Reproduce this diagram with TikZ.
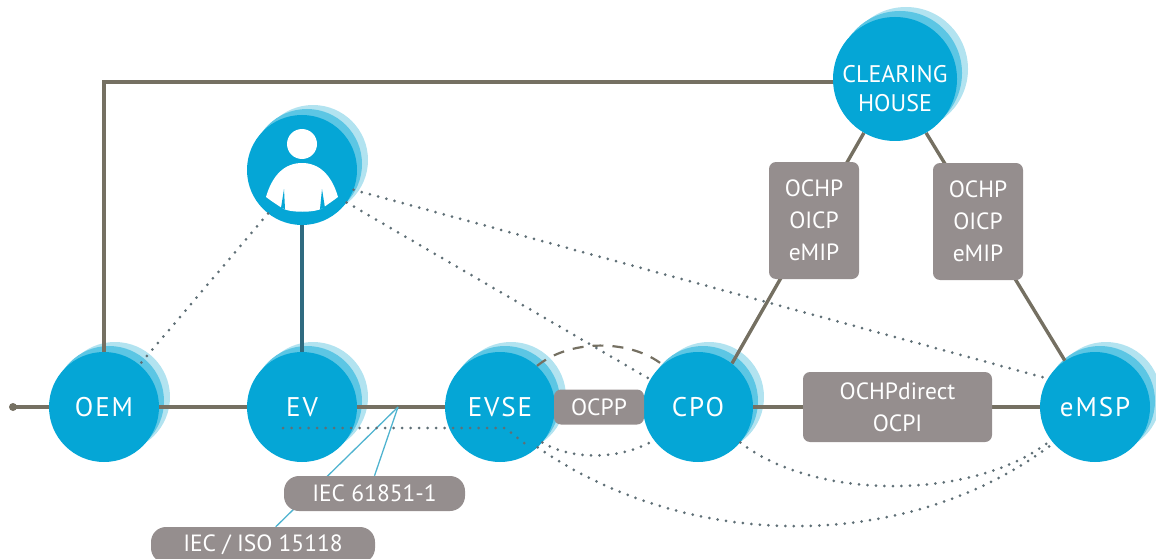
\documentclass[tikz,border=0pt]{standalone}
\usepackage{fontspec}
\setmainfont{PT Sans}
\newfontfamily\trackfont[LetterSpace=7]{PT Sans}
\definecolor{front}{HTML}{05A6D6}
\definecolor{midhalo}{HTML}{5CC6E4}
\definecolor{lighthalo}{HTML}{B2E3F0}
\definecolor{boxgrey}{HTML}{958E8E}
\definecolor{wire}{HTML}{757062}
\definecolor{teal}{HTML}{2F6B80}
\definecolor{dotgrey}{HTML}{5F6F76}
\definecolor{thinblue}{HTML}{4FB3CF}
\pgfdeclarelayer{halo}
\pgfdeclarelayer{lines}
\pgfdeclarelayer{front}
\pgfsetlayers{halo,lines,main,front}
\tikzset{
  x=1pt,y=-1pt,
  actor/.style={circle,fill=front,text=white,inner sep=0pt,minimum size=110pt,
    font=\trackfont\fontsize{27}{30}\selectfont,align=center},
  clearing/.style={actor,minimum size=124pt},
  clearingtext/.style={text=white,inner sep=0pt,align=center,font=\fontsize{24}{29}\selectfont},
  protobox/.style={rectangle,rounded corners=7pt,fill=boxgrey,text=white,inner sep=0pt,
    font=\fontsize{23.5}{32}\selectfont,align=center},
  pill/.style={protobox,rounded corners=15pt},
  wireline/.style={draw=wire,line width=3.4pt},
  tealline/.style={draw=teal,line width=3.8pt},
  blueline/.style={draw=thinblue,line width=1.3pt},
  dotline/.style={draw=dotgrey,line width=3pt,line cap=round,dash pattern=on 0pt off 8.5pt},
  dashline/.style={draw=wire,line width=2.2pt,dash pattern=on 11pt off 9pt},
}
\begin{document}
\begin{tikzpicture}
\useasboundingbox (0,0) rectangle (1156,559);
% named free ends
\coordinate (startpt) at (13,407);
\coordinate (jn) at (398,407);
\coordinate (chjoin) at (834,82);
\coordinate (evdota) at (283,428);
\coordinate (evdotb) at (505,428);
\coordinate (evdotc) at (528,446);
% actors
\node[actor] (oem) at (104,407) {OEM};
\node[actor] (ev) at (302,407) {EV};
\node[actor] (evse) at (500,407) {EVSE};
\node[actor] (cpo) at (698,407) {CPO};
\node[actor] (emsp) at (1095,407) {eMSP};
\node[clearing] (ch) at (895,79) {};
\node[clearingtext] (chlabel) at (895,89) {CLEARING\\HOUSE};
\node[actor] (person) at (302,170) {};
% protocol boxes
\node[protobox,minimum width=90pt,minimum height=35pt] (ocpp) at (599,407) {OCPP};
\node[protobox,minimum width=189pt,minimum height=70pt] (direct) at (897.5,407) {OCHPdirect\\OCPI};
\node[protobox,minimum width=90pt,minimum height=117pt] (left) at (814,220.5) {OCHP\\OICP\\eMIP};
\node[protobox,minimum width=90pt,minimum height=117pt] (right) at (978,221.5) {OCHP\\OICP\\eMIP};
\node[pill,minimum width=181pt,minimum height=35pt] (iecb) at (374.5,493.5) {IEC 61851-1};
\begin{scope}
  \clip (0,0) rectangle (1156,559);
  \node[pill,minimum width=224pt,minimum height=36pt] (ieca) at (263,545) {IEC / ISO 15118};
\end{scope}
% person icon
\fill[white] (302,144) circle (15);
\fill[white] (266,197) .. controls (272,176) and (284,163) .. (302,163)
  .. controls (320,163) and (332,176) .. (338,197)
  .. controls (330,203) and (325,206) .. (323,208)
  .. controls (315,213) and (289,213) .. (282,208)
  .. controls (279,206) and (274,203) .. (266,197) -- cycle;
\fill[front] (281,208) -- (284,189) -- (285,209) -- cycle;
\fill[front] (320,209) -- (322,189) -- (325,208) -- cycle;
% halos
\begin{pgfonlayer}{halo}
  \foreach \n/\r in {oem/55,ev/55,evse/55,cpo/55,emsp/55,person/55,ch/62}{
    \fill[lighthalo] ([shift={(11,-10)}]\n.center) circle (\r);
    \fill[midhalo] ([shift={(5,-6)}]\n.center) circle (\r);
  }
\end{pgfonlayer}
% connectors
\begin{pgfonlayer}{lines}
  \fill[wire] (startpt) circle (4);
  \draw[wireline] (startpt) -- (oem);
  \draw[wireline] (oem) -- (ev);
  \draw[wireline] (ev) -- (evse);
  \draw[wireline] (cpo) -- (direct);
  \draw[wireline] (direct) -- (emsp);
  \draw[wireline] (oem.center) |- (chjoin);
  \draw[wireline] (ch.240) -- (cpo.52);
  \draw[wireline] (ch.300) -- (emsp.123);
  \draw[tealline] (person) -- (ev);
  \draw[blueline] (jn) -- (ieca.55);
  \draw[blueline] (jn) -- (iecb.north);
  \draw[dashline] (evse.48) .. controls (570,339) and (630,339) .. (cpo.130);
\end{pgfonlayer}
\begin{pgfonlayer}{front}
  \draw[dotline] (person.232) -- (oem.50);
  \draw[dotline] (person.-21) -- (emsp.149);
  \draw[dotline] (person.-36) -- (cpo.150);
  \draw[dotline] (evdota) -- (evdotb) -- (evdotc);
  \draw[dotline] (evse.-40) .. controls (575,462) and (625,458) .. (cpo.217);
  \draw[dotline] (evse.-47) .. controls (690,553) and (910,553) .. (emsp.221);
  \draw[dotline] (cpo.-40) .. controls (815,501) and (975,501) .. (emsp.217);
\end{pgfonlayer}
\end{tikzpicture}
\end{document}
